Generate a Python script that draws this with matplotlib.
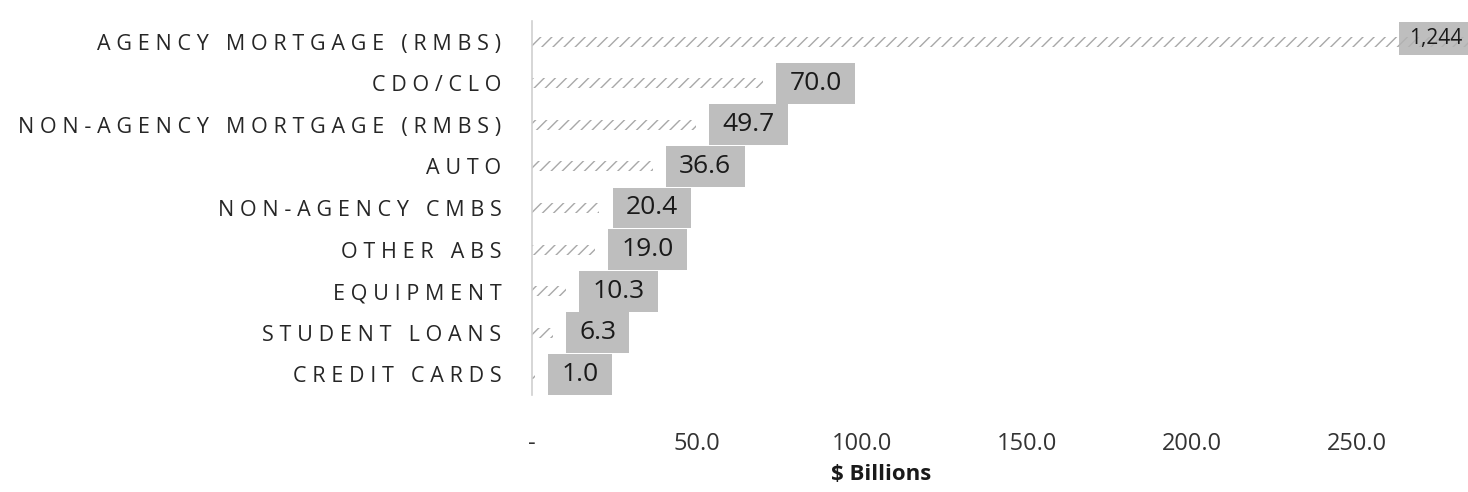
import matplotlib
matplotlib.use('Agg')
import matplotlib.pyplot as plt
from matplotlib.path import Path
from matplotlib.ticker import FuncFormatter

plt.rcParams['font.family'] = ['Open Sans', 'DejaVu Sans']
plt.rcParams['hatch.color'] = '#a8a8a8'
plt.rcParams['hatch.linewidth'] = 1.0

categories = ['AGENCY MORTGAGE (RMBS)', 'CDO/CLO', 'NON-AGENCY MORTGAGE (RMBS)',
              'AUTO', 'NON-AGENCY CMBS', 'OTHER ABS', 'EQUIPMENT',
              'STUDENT LOANS', 'CREDIT CARDS']
values = [1244, 70.0, 49.7, 36.6, 20.4, 19.0, 10.3, 6.3, 1.0]
x_ticks = [0, 50, 100, 150, 200, 250]
x_max = 283.6


def spaced(s):
    # wide tracking on the category labels
    return '\u2009\u200a'.join(s)


def label_box(x0, y0, width, height, mutation_size):
    # plain rectangle with more padding left/right than top/bottom
    px, py = 0.5 * mutation_size, 0.3 * mutation_size
    return Path([(x0 - px, y0 - py), (x0 + width + px, y0 - py),
                 (x0 + width + px, y0 + height + py), (x0 - px, y0 + height + py),
                 (x0 - px, y0 - py)], closed=True)


def fmt_tick(v, pos):
    return '-' if v == 0 else f'{v:.1f}'


fig = plt.figure(figsize=(14.68, 4.92), dpi=100)
ax = fig.add_axes([532 / 1468, 1 - 395 / 492, (1468 - 532) / 1468, (395 - 21) / 492])

ypos = list(range(len(categories)))
ax.barh(ypos, values, height=0.24, color='white', hatch='///', linewidth=0)

for y, v in zip(ypos, values):
    if v > x_max:
        ax.annotate(f'{v:,.0f}', xy=(x_max, y), xytext=(-4, 2.5), textcoords='offset points',
                    ha='right', va='center', fontsize=15, color='#1a1a1a',
                    annotation_clip=False,
                    bbox=dict(boxstyle=label_box, fc='#b3b3b3', ec='none', alpha=0.85))
    else:
        ax.annotate(f'{v:.1f}', xy=(v, y), xytext=(19, 0), textcoords='offset points',
                    ha='left', va='center', fontsize=19, color='#1a1a1a',
                    annotation_clip=False,
                    bbox=dict(boxstyle=label_box, fc='#b3b3b3', ec='none', alpha=0.85))

ax.set_xlim(0, x_max)
ax.set_ylim(len(categories) - 0.5, -0.5)
ax.set_xticks(x_ticks)
ax.xaxis.set_major_formatter(FuncFormatter(fmt_tick))
ax.set_yticks(ypos)
ax.set_yticklabels([spaced(c) for c in categories])

ax.tick_params(axis='y', length=0, pad=22, labelsize=15.5, labelcolor='#262626')
ax.tick_params(axis='x', length=0, pad=27, labelsize=17, labelcolor='#333333')

for side in ['top', 'right', 'bottom']:
    ax.spines[side].set_visible(False)
ax.spines['left'].set_color('#d0d0d0')
ax.spines['left'].set_linewidth(1.2)

ax.set_xlabel('$ Billions', fontsize=16, fontweight='bold', color='#1a1a1a')
ax.xaxis.set_label_coords((881 - 532) / (1468 - 532), -0.185)

fig.savefig('out.png', dpi=100)
